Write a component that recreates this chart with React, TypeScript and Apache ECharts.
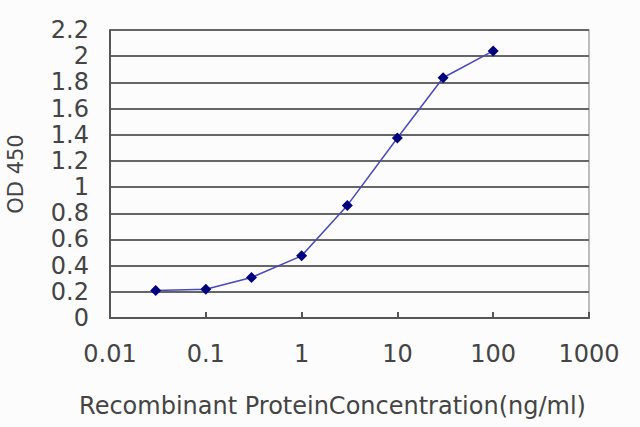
import React, { useEffect, useRef } from "react";
import * as echarts from "echarts";

const concentrations = [0.03, 0.1, 0.3, 1, 3, 10, 30, 100];
const odValues = [0.21, 0.22, 0.31, 0.475, 0.86, 1.375, 1.835, 2.04];
const xTickLabels = ["0.01", "0.1", "1", "10", "100", "1000"];
const xTitle = "Recombinant ProteinConcentration(ng/ml)";
const yTitle = "OD 450";

export default function App() {
  const ref = useRef<HTMLDivElement>(null);
  useEffect(() => {
    if (!ref.current) return;
    const chart = echarts.init(ref.current, null, { renderer: "svg" });
    const font = "'DejaVu Sans', 'Liberation Sans', Arial, sans-serif";
    chart.setOption({
      animation: false,
      backgroundColor: "#fcfcfc",
      textStyle: { fontFamily: font },
      grid: {
        left: 110,
        right: 51,
        top: 30,
        bottom: 109,
        outerBoundsMode: "none",
        containLabel: false,
        show: true,
        borderColor: "#a8a8a8",
        borderWidth: 1.5,
        backgroundColor: "#fcfcfc",
      },
      xAxis: {
        type: "log",
        logBase: 10,
        min: 0.01,
        max: 1000,
        name: xTitle,
        nameLocation: "middle",
        nameGap: 76,
        nameTextStyle: { fontSize: 24, color: "#444", fontFamily: font, padding: [0, 34, 0, 0] },
        axisLine: { show: true, lineStyle: { color: "#555", width: 2 } },
        axisTick: { show: true, inside: true, length: 6, lineStyle: { color: "#555", width: 2 } },
        minorTick: { show: false },
        splitLine: { show: false },
        axisLabel: {
          margin: 24,
          fontSize: 24,
          color: "#444",
          fontFamily: font,
          formatter: (v: number) => xTickLabels[Math.round(Math.log10(v)) + 2] ?? "",
        },
      },
      yAxis: {
        type: "value",
        min: 0,
        max: 2.2,
        interval: 0.2,
        name: yTitle,
        nameLocation: "middle",
        nameGap: 84,
        nameRotate: 90,
        nameTextStyle: { fontSize: 21, color: "#444", fontFamily: font },
        axisLine: { show: true, lineStyle: { color: "#555", width: 2 } },
        axisTick: { show: false },
        splitLine: { show: true, lineStyle: { color: "#666", width: 2 } },
        axisLabel: {
          margin: 21,
          fontSize: 24,
          color: "#444",
          fontFamily: font,
          formatter: (v: number) => String(parseFloat(v.toFixed(1))),
        },
      },
      series: [
        {
          type: "line",
          data: concentrations.map((c, i) => [c, odValues[i]]),
          symbol: "diamond",
          symbolSize: 11,
          itemStyle: { color: "#00007f" },
          lineStyle: { color: "#4848b8", width: 1.5 },
        },
      ],
    });
    return () => chart.dispose();
  }, []);
  return <div ref={ref} style={{ width: 640, height: 427, position: "absolute", left: 0, top: 0 }} />;
}
